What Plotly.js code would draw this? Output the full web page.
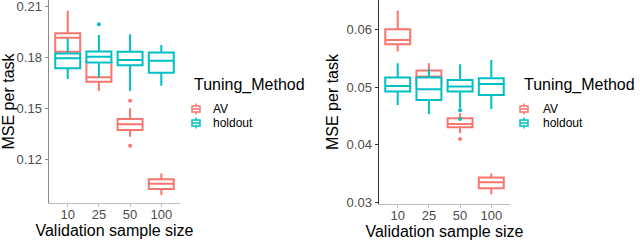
<!DOCTYPE html>
<html>
<head>
<meta charset="utf-8">
<script src="https://cdn.plot.ly/plotly-3.0.1.min.js"></script>
<style>html,body{margin:0;padding:0;background:#fff;}#chart{width:640px;height:240px;}</style>
</head>
<body>
<div id="chart"></div>
<script>
// Categories (validation sample size)
const sizes = ['10', '25', '50', '100'];
const methods = ['AV', 'holdout'];
const legendTitle = 'Tuning_Method';

// Left panel - AV
const leftAV_q1  = [0.1834, 0.1657, 0.1371, 0.1023];
const leftAV_med = [0.1917, 0.1683, 0.1405, 0.1054];
const leftAV_q3  = [0.1943, 0.1780, 0.1436, 0.1080];
const leftAV_lo  = [0.1760, 0.1602, 0.1332, 0.0987];
const leftAV_hi  = [0.2076, 0.1840, 0.1500, 0.1115];
const leftAV_outX = ['50', '50'];
const leftAV_outY = [0.1544, 0.1278];

// Left panel - holdout
const leftHO_q1  = [0.1736, 0.1771, 0.1755, 0.1710];
const leftHO_med = [0.1795, 0.1805, 0.1785, 0.1781];
const leftHO_q3  = [0.1824, 0.1836, 0.1834, 0.1830];
const leftHO_lo  = [0.1673, 0.1683, 0.1602, 0.1633];
const leftHO_hi  = [0.1913, 0.1933, 0.1937, 0.1874];
const leftHO_outX = ['25'];
const leftHO_outY = [0.1996];

// Right panel - AV
const rightAV_q1  = [0.05750, 0.05050, 0.04306, 0.03244];
const rightAV_med = [0.05826, 0.05187, 0.04364, 0.03349];
const rightAV_q3  = [0.06010, 0.05291, 0.04463, 0.03429];
const rightAV_lo  = [0.05622, 0.04900, 0.04200, 0.03140];
const rightAV_hi  = [0.06336, 0.05420, 0.04550, 0.03500];
const rightAV_outX = ['50'];
const rightAV_outY = [0.0410];

// Right panel - holdout
const rightHO_q1  = [0.04926, 0.04781, 0.04926, 0.04868];
const rightHO_med = [0.05025, 0.04968, 0.05013, 0.05060];
const rightHO_q3  = [0.05170, 0.05170, 0.05130, 0.05159];
const rightHO_lo  = [0.04694, 0.04532, 0.04637, 0.04625];
const rightHO_hi  = [0.05420, 0.05316, 0.05403, 0.05478];
const rightHO_outX = ['50', '50'];
const rightHO_outY = [0.0460, 0.0445];

// Tick values
const leftTicks = [0.12, 0.15, 0.18, 0.21];
const rightTicks = [0.03, 0.04, 0.05, 0.06];

const colors = {AV: '#F8766D', holdout: '#00BFC4'};
const FONT = 'Liberation Sans, Arial, sans-serif';
const W = 640, H = 240;
const px = v => v / W, py = v => 1 - v / H;

function box(name, q1, med, q3, lo, hi, xa, ya) {
  return {
    type: 'box', name: name, x: sizes, q1: q1, median: med, q3: q3,
    lowerfence: lo, upperfence: hi, boxpoints: false,
    xaxis: xa, yaxis: ya, showlegend: false,
    width: 0.8, whiskerwidth: 0,
    fillcolor: 'white', line: {color: colors[name], width: 2},
    hoverinfo: 'skip'
  };
}
function outl(name, xs, ys, xa, ya) {
  return {
    type: 'scatter', mode: 'markers', x: xs, y: ys, xaxis: xa, yaxis: ya,
    showlegend: false, name: name,
    marker: {color: colors[name], size: 4}, hoverinfo: 'skip'
  };
}

const data = [
  box('AV', leftAV_q1, leftAV_med, leftAV_q3, leftAV_lo, leftAV_hi, 'x', 'y'),
  outl('AV', leftAV_outX, leftAV_outY, 'x', 'y'),
  box('holdout', leftHO_q1, leftHO_med, leftHO_q3, leftHO_lo, leftHO_hi, 'x', 'y'),
  outl('holdout', leftHO_outX, leftHO_outY, 'x', 'y'),
  box('AV', rightAV_q1, rightAV_med, rightAV_q3, rightAV_lo, rightAV_hi, 'x2', 'y2'),
  outl('AV', rightAV_outX, rightAV_outY, 'x2', 'y2'),
  box('holdout', rightHO_q1, rightHO_med, rightHO_q3, rightHO_lo, rightHO_hi, 'x2', 'y2'),
  outl('holdout', rightHO_outX, rightHO_outY, 'x2', 'y2')
];

function xax(domain, anchor) {
  return {
    domain: domain, anchor: anchor, type: 'category', categoryorder: 'array', categoryarray: sizes,
    range: [-0.6, 3.6], showgrid: false, zeroline: false,
    showline: true, linecolor: '#bdbdbd', linewidth: 1.2,
    ticks: 'outside', ticklen: 3, tickcolor: '#bdbdbd', tickwidth: 1,
    ticklabelstandoff: -4,
    tickfont: {family: FONT, size: 13, color: '#4d4d4d'},
    title: {text: 'Validation sample size', font: {family: FONT, size: 16, color: '#000'}, standoff: 0},
    fixedrange: true
  };
}
function yax(domain, anchor, range, ticks, lc) {
  return {
    domain: domain, anchor: anchor, range: range, tickvals: ticks, tickformat: '.2f',
    showgrid: false, zeroline: false, showline: true, linecolor: lc, linewidth: 1.5,
    ticks: 'outside', ticklen: 3, tickcolor: lc, tickwidth: 1,
    ticklabeloverflow: 'allow',
    tickfont: {family: FONT, size: 13, color: '#4d4d4d'},
    title: {text: 'MSE per task', font: {family: FONT, size: 16, color: '#000'}, standoff: 4},
    fixedrange: true
  };
}

// Custom legends (one per panel), built from the method list and colours
const annotations = [];
const shapes = [];
function addLegend(titleX, keyX, textX) {
  annotations.push({
    xref: 'paper', yref: 'paper', x: px(titleX), y: py(85), xanchor: 'left', yanchor: 'middle',
    text: legendTitle, showarrow: false, font: {family: FONT, size: 16, color: '#000'}
  });
  const rowY = [109, 123];
  methods.forEach((m, i) => {
    const cy = rowY[i], c = colors[m];
    annotations.push({
      xref: 'paper', yref: 'paper', x: px(textX), y: py(cy), xanchor: 'left', yanchor: 'middle',
      text: m, showarrow: false, font: {family: FONT, size: 12, color: '#000'}
    });
    shapes.push({type: 'rect', xref: 'paper', yref: 'paper',
      x0: px(keyX - 4), x1: px(keyX + 4), y0: py(cy - 3), y1: py(cy + 3),
      line: {color: c, width: 1.5}, fillcolor: 'white'});
    shapes.push({type: 'line', xref: 'paper', yref: 'paper',
      x0: px(keyX - 4), x1: px(keyX + 4), y0: py(cy), y1: py(cy), line: {color: c, width: 1.5}});
    shapes.push({type: 'line', xref: 'paper', yref: 'paper',
      x0: px(keyX), x1: px(keyX), y0: py(cy - 3), y1: py(cy - 5.5), line: {color: c, width: 1.5}});
    shapes.push({type: 'line', xref: 'paper', yref: 'paper',
      x0: px(keyX), x1: px(keyX), y0: py(cy + 3), y1: py(cy + 5.5), line: {color: c, width: 1.5}});
  });
}
addLegend(192, 196, 211);
addLegend(522, 524, 541);

const layout = {
  width: W, height: H, margin: {l: 0, r: 0, t: 0, b: 0},
  paper_bgcolor: '#fff', plot_bgcolor: '#fff',
  boxmode: 'overlay', showlegend: false,
  xaxis: xax([49/640, 180/640], 'y'),
  yaxis: yax([37/240, 1], 'x', [0.094, 0.214], leftTicks, '#8a8a8a'),
  xaxis2: xax([379/640, 510/640], 'y2'),
  yaxis2: yax([36/240, 1], 'x2', [0.0297, 0.0652], rightTicks, '#333333'),
  annotations: annotations,
  shapes: shapes
};

Plotly.newPlot('chart', data, layout, {staticPlot: true, displayModeBar: false});
</script>
</body>
</html>
